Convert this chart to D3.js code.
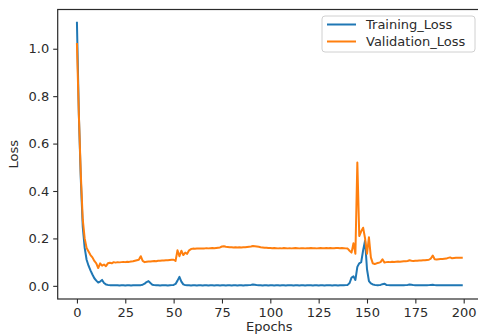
<!DOCTYPE html>
<html><head><meta charset="utf-8">
<script src="https://cdn.jsdelivr.net/npm/d3@7"></script>
<style>html,body{margin:0;padding:0;background:#fff;overflow:hidden}</style>
</head><body>
<script>
const trainingLoss = [
1.11,0.72,0.45,0.25,0.16,0.11,0.085,0.065,0.048,0.032,
0.022,0.014,0.018,0.025,0.012,0.006,0.004,0.003,0.003,0.002,
0.002,0.002,0.001,0.002,0.002,0.001,0.002,0.002,0.001,0.002,
0.002,0.002,0.003,0.003,0.005,0.009,0.016,0.02,0.012,0.005,
0.003,0.002,0.002,0.001,0.002,0.002,0.002,0.001,0.002,0.003,
0.004,0.008,0.022,0.038,0.018,0.006,0.003,0.002,0.002,0.001,
0.002,0.002,0.001,0.002,0.002,0.001,0.002,0.002,0.001,0.002,
0.002,0.001,0.002,0.002,0.001,0.002,0.002,0.001,0.002,0.002,
0.001,0.002,0.002,0.001,0.002,0.002,0.001,0.002,0.002,0.003,
0.004,0.006,0.005,0.003,0.002,0.002,0.001,0.002,0.002,0.001,
0.002,0.002,0.001,0.002,0.002,0.001,0.002,0.002,0.001,0.002,
0.002,0.002,0.001,0.002,0.002,0.001,0.002,0.002,0.001,0.002,
0.002,0.002,0.001,0.002,0.002,0.001,0.002,0.002,0.001,0.002,
0.002,0.002,0.001,0.002,0.002,0.001,0.002,0.002,0.002,0.003,
0.004,0.012,0.035,0.04,0.025,0.08,0.095,0.1,0.15,0.19,
0.07,0.02,0.01,0.006,0.004,0.003,0.003,0.004,0.007,0.009,
0.004,0.003,0.002,0.002,0.003,0.002,0.002,0.002,0.002,0.002,
0.003,0.004,0.006,0.005,0.003,0.002,0.002,0.002,0.003,0.002,
0.002,0.002,0.003,0.004,0.005,0.003,0.002,0.002,0.002,0.002,
0.002,0.003,0.002,0.002,0.003,0.002,0.002,0.002,0.002,0.002
];
const validationLoss = [
1.02,0.72,0.47,0.28,0.2,0.16,0.145,0.13,0.12,0.105,
0.095,0.075,0.095,0.085,0.09,0.083,0.095,0.097,0.095,0.1,
0.098,0.1,0.099,0.1,0.101,0.1,0.102,0.101,0.103,0.104,
0.106,0.108,0.11,0.125,0.105,0.1,0.102,0.103,0.103,0.104,
0.105,0.104,0.106,0.106,0.107,0.107,0.108,0.108,0.109,0.11,
0.11,0.105,0.15,0.125,0.148,0.13,0.14,0.135,0.15,0.155,
0.157,0.156,0.157,0.158,0.157,0.158,0.158,0.159,0.158,0.159,
0.16,0.159,0.16,0.161,0.162,0.166,0.167,0.165,0.164,0.163,
0.163,0.162,0.163,0.162,0.163,0.162,0.163,0.163,0.164,0.165,
0.166,0.168,0.167,0.166,0.165,0.163,0.162,0.161,0.161,0.16,
0.16,0.159,0.16,0.159,0.158,0.159,0.158,0.16,0.159,0.158,
0.159,0.158,0.159,0.16,0.159,0.158,0.159,0.159,0.158,0.159,
0.159,0.16,0.159,0.159,0.158,0.159,0.16,0.159,0.159,0.16,
0.159,0.16,0.159,0.159,0.16,0.16,0.159,0.16,0.159,0.158,
0.157,0.148,0.14,0.18,0.135,0.52,0.21,0.23,0.245,0.2,
0.135,0.205,0.12,0.095,0.092,0.095,0.097,0.1,0.112,0.098,
0.1,0.101,0.1,0.102,0.101,0.102,0.103,0.102,0.103,0.104,
0.104,0.105,0.108,0.106,0.105,0.106,0.106,0.107,0.107,0.108,
0.108,0.109,0.11,0.115,0.128,0.112,0.111,0.112,0.113,0.113,
0.114,0.115,0.118,0.12,0.116,0.117,0.118,0.118,0.119,0.119
];
const xTicks = [0,25,50,75,100,125,150,175,200];
const yTicks = [0.0,0.2,0.4,0.6,0.8,1.0];
const seriesNames = ["Training_Loss","Validation_Loss"];
const seriesColors = ["#1f77b4","#ff7f0e"];

const W = 478, H = 336;
const mLeft = 57.7, mRight = 481, mTop = 9.5, mBottom = 299;
const svg = d3.select("body").append("svg").attr("width",W).attr("height",H)
  .style("font-family","'DejaVu Sans', sans-serif");
svg.append("rect").attr("width",W).attr("height",H).attr("fill","#fff");

const n = trainingLoss.length;
const x = d3.scaleLinear().domain([-0.05*(n-1), (n-1)*1.05]).range([mLeft,mRight]);
const yMax = d3.max([...trainingLoss,...validationLoss]);
const yMin = 0;
const pad = (yMax - yMin)*0.05;
const y = d3.scaleLinear().domain([yMin - pad, yMax + pad]).range([mBottom, mTop]);

const axisColor = "#2b2b2b";
const fs = "13px";

// series
const line = d3.line().x((d,i)=>x(i)).y(d=>y(d));
[trainingLoss, validationLoss].forEach((s,k)=>{
  svg.append("path").datum(s).attr("d",line).attr("fill","none")
    .attr("stroke",seriesColors[k]).attr("stroke-width",2)
    .attr("stroke-linejoin","round").attr("stroke-linecap","square");
});

// axes
const gx = svg.append("g").attr("transform",`translate(0,${mBottom})`)
  .call(d3.axisBottom(x).tickValues(xTicks).tickFormat(d3.format("d")).tickSize(4.5).tickPadding(4));
const gy = svg.append("g").attr("transform",`translate(${mLeft},0)`)
  .call(d3.axisLeft(y).tickValues(yTicks).tickFormat(d3.format(".1f")).tickSize(4.5).tickPadding(4));
[gx,gy].forEach(g=>{
  g.select(".domain").remove();
  g.selectAll(".tick line").attr("stroke",axisColor).attr("stroke-width",1.1);
  g.selectAll(".tick text").attr("fill",axisColor).style("font-size",fs).style("font-family","'DejaVu Sans', sans-serif");
});

// spines
svg.append("rect").attr("x",mLeft).attr("y",mTop).attr("width",mRight-mLeft).attr("height",mBottom-mTop)
  .attr("fill","none").attr("stroke",axisColor).attr("stroke-width",1.2);

// axis labels
svg.append("text").attr("x",(mLeft+mRight)/2).attr("y",331).attr("text-anchor","middle")
  .attr("fill",axisColor).style("font-size",fs).text("Epochs");
svg.append("text").attr("transform",`translate(18,${(mTop+mBottom)/2}) rotate(-90)`)
  .attr("text-anchor","middle").attr("fill",axisColor).style("font-size",fs).text("Loss");

// legend
const lg = svg.append("g");
lg.append("rect").attr("x",322).attr("y",16).attr("width",153).attr("height",36).attr("rx",3)
  .attr("fill","#fff").attr("fill-opacity",0.8).attr("stroke","#d0d0d0").attr("stroke-width",1);
seriesNames.forEach((name,k)=>{
  const yy = 24.5 + k*17;
  lg.append("line").attr("x1",327).attr("x2",356).attr("y1",yy).attr("y2",yy)
    .attr("stroke",seriesColors[k]).attr("stroke-width",2);
  lg.append("text").attr("x",366).attr("y",yy+4.5).attr("fill",axisColor).style("font-size",fs).text(name);
});
</script>
</body></html>
